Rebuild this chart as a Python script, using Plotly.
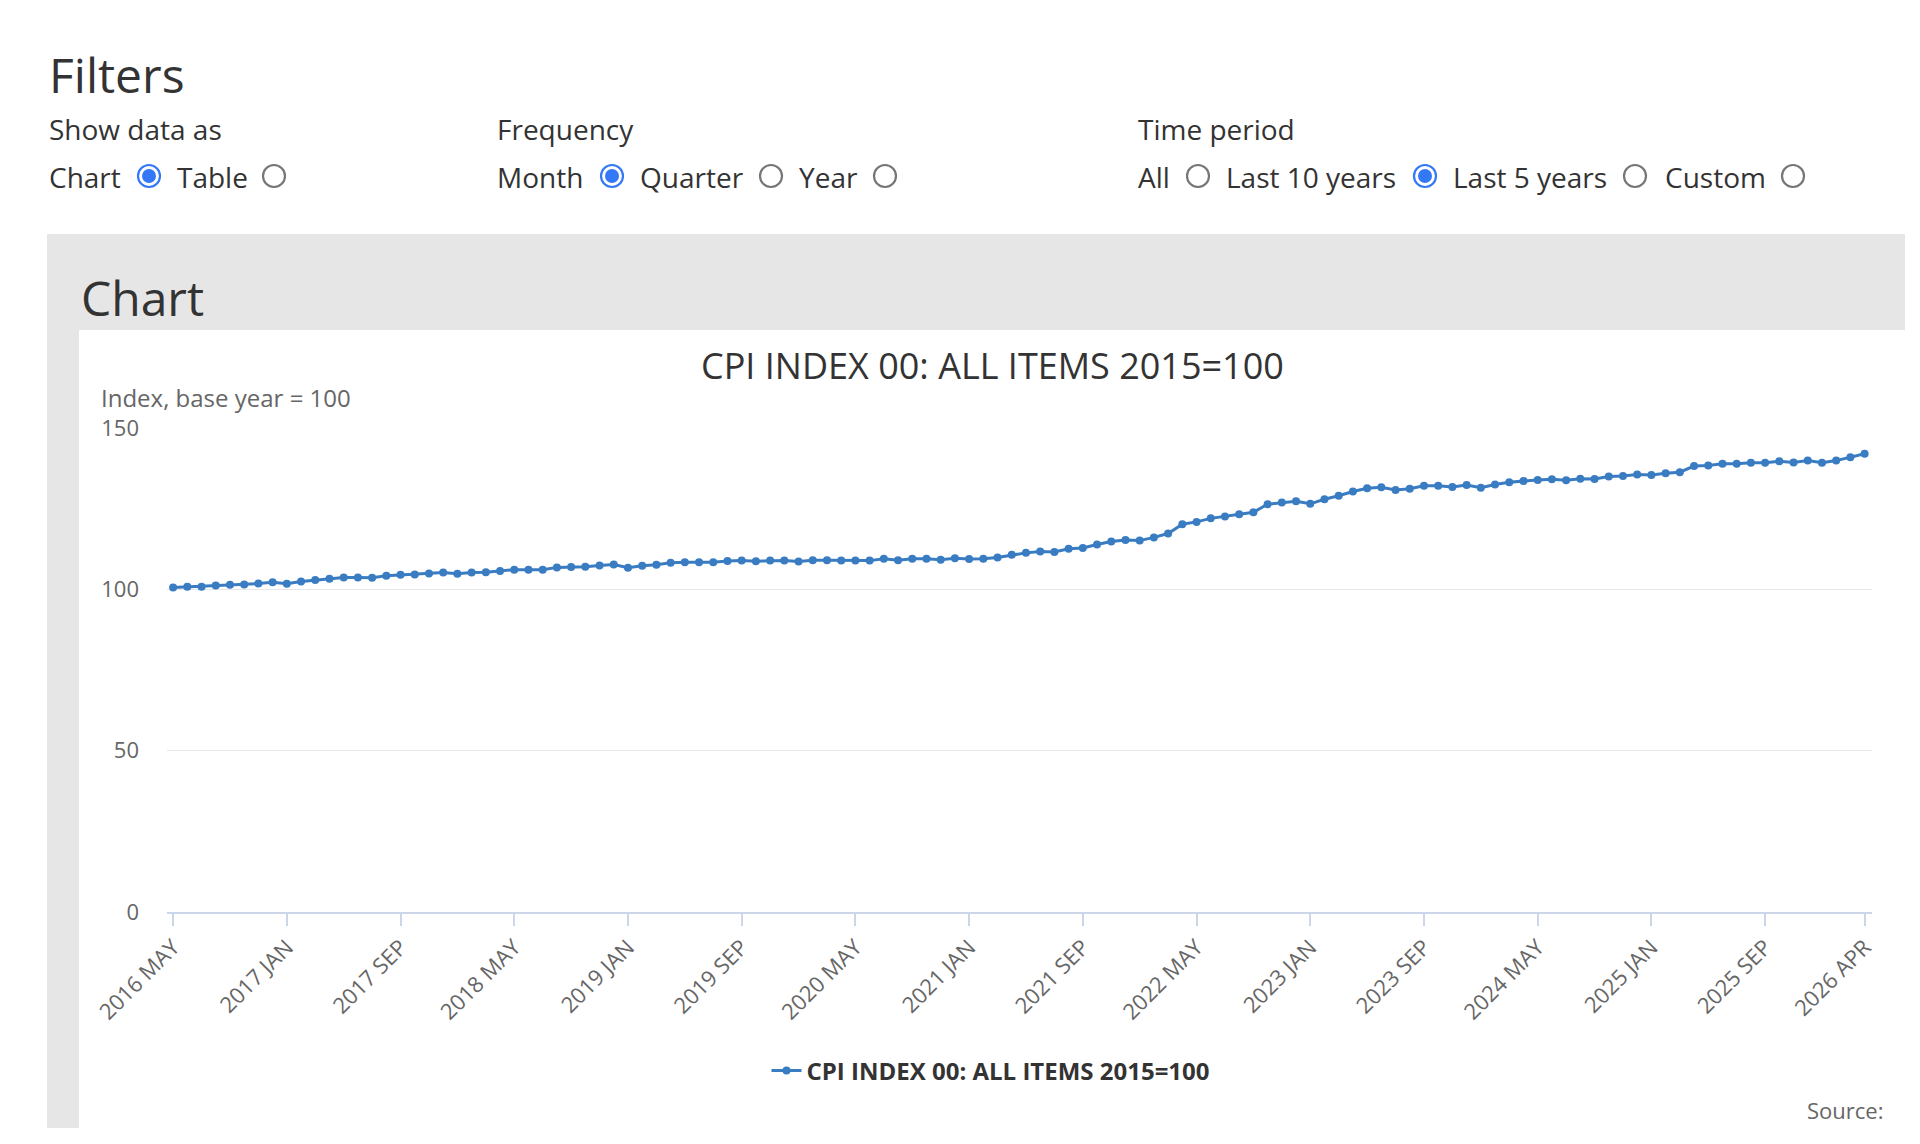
import pandas as pd
import plotly.graph_objects as go

# monthly CPI, 2016 MAY .. 2026 APR
cpi_values = [
    100.6, 100.8, 100.8, 101.2, 101.4, 101.5, 101.8, 102.2, 101.7, 102.4,
    102.9, 103.3, 103.7, 103.7, 103.6, 104.2, 104.5, 104.6, 104.9, 105.2,
    104.8, 105.2, 105.3, 105.7, 106.1, 106.1, 106.1, 106.8, 106.9, 107.0,
    107.4, 107.7, 106.7, 107.3, 107.6, 108.2, 108.4, 108.4, 108.4, 108.8,
    108.9, 108.7, 108.9, 108.9, 108.6, 109.0, 109.0, 108.9, 108.9, 108.9,
    109.5, 109.0, 109.5, 109.5, 109.2, 109.6, 109.4, 109.5, 109.9, 110.7,
    111.3, 111.7, 111.6, 112.6, 112.8, 113.9, 114.8, 115.3, 115.1, 116.1,
    117.3, 120.2, 120.9, 122.0, 122.6, 123.3, 123.9, 126.4, 126.9, 127.3,
    126.5, 127.9, 129.0, 130.3, 131.3, 131.6, 130.8, 131.2, 132.1, 132.1,
    131.7, 132.3, 131.5, 132.5, 133.2, 133.6, 133.9, 134.1, 133.8, 134.3,
    134.2, 135.0, 135.1, 135.6, 135.4, 136.0, 136.3, 138.2, 138.4, 138.9,
    138.9, 139.2, 139.2, 139.7, 139.3, 139.9, 139.2, 139.9, 140.9, 142.0,
]
months = [p.strftime("%Y %b").upper() for p in pd.period_range("2016-05", "2026-04", freq="M")]
tick_labels = months[::8] + [months[-1]]
y_ticks = [0, 50, 100, 150]

series_name = "CPI INDEX 00: ALL ITEMS 2015=100"
line_color = "#3a7cc2"
font = "Open Sans"

# plot area in page pixels
W, H = 1920, 1144
L, R, T, B = 159, 1864, 420, 904


def px(x):
    return (x - L) / (R - L)


def py(y):
    return (B - y) / (B - T)


def text(s, x, baseline, size, color="#333333", anchor="left"):
    return dict(text=s, x=px(x), y=py(baseline - 0.34 * size), xref="paper", yref="paper",
                xanchor=anchor, yanchor="middle", showarrow=False,
                font=dict(family=font, size=size, color=color))


def rect(x0, y0, x1, y1, color):
    return dict(type="rect", xref="paper", yref="paper",
                x0=px(x0), x1=px(x1), y0=py(y1), y1=py(y0),
                fillcolor=color, line_width=0, layer="below")


fig = go.Figure(go.Scatter(
    x=months, y=cpi_values, name=series_name, mode="lines+markers",
    line=dict(color=line_color, width=3),
    marker=dict(color=line_color, size=8),
))

# grey "Chart" box with the white chart card inside it
shapes = [
    rect(39, 226, 1897, 1120, "#e6e6e6"),
    rect(71, 322, 1897, 1120, "white"),
]

# radio buttons of the filter form
radio_y = 168
radios = [(141, True), (266, False), (604, True), (763, False), (877, False),
          (1190, False), (1417, True), (1627, False), (1785, False)]
for cx, on in radios:
    r = 11
    shapes.append(dict(type="circle", xref="paper", yref="paper",
                       x0=px(cx - r), x1=px(cx + r), y0=py(radio_y + r), y1=py(radio_y - r),
                       fillcolor="white",
                       line=dict(color="#3478f6" if on else "#767676", width=2.2)))
    if on:
        r2 = 7
        shapes.append(dict(type="circle", xref="paper", yref="paper",
                           x0=px(cx - r2), x1=px(cx + r2), y0=py(radio_y + r2), y1=py(radio_y - r2),
                           fillcolor="#3478f6", line_width=0))

annotations = [
    text("Filters", 39, 83, 48),
    text("Show data as", 39, 131, 28),
    text("Frequency", 487, 131, 28),
    text("Time period", 1128, 131, 28),
    text("Chart", 39, 179, 28),
    text("Table", 167, 179, 28),
    text("Month", 487, 179, 28),
    text("Quarter", 630, 179, 28),
    text("Year", 789, 179, 28),
    text("All", 1128, 179, 28),
    text("Last 10 years", 1216, 179, 28),
    text("Last 5 years", 1443, 179, 28),
    text("Custom", 1655, 179, 28),
    text("Chart", 71, 306, 48),
    text(series_name, 984, 370, 36, anchor="center"),
    text("Index, base year = 100", 91, 398, 24, color="#666666"),
    text("Source:", 1877, 1109, 22, color="#666666", anchor="right"),
]

fig.update_layout(
    width=W, height=H,
    margin=dict(l=L, r=W - R, t=T, b=H - B),
    paper_bgcolor="white", plot_bgcolor="rgba(0,0,0,0)",
    font=dict(family=font, color="#666666"),
    shapes=shapes, annotations=annotations,
    showlegend=True,
    legend=dict(orientation="h", x=px(983), xanchor="center", y=py(1063), yanchor="middle",
                font=dict(family=font, size=24, color="#333333", weight=700),
                bgcolor="rgba(0,0,0,0)"),
    xaxis=dict(type="category", range=[-0.43, 119.52],
               tickmode="array", tickvals=tick_labels, ticktext=tick_labels,
               tickangle=-45, tickfont=dict(size=22, color="#666666"),
               ticks="outside", ticklen=12, tickcolor="#ccd6eb", tickwidth=1.5,
               showgrid=False, showline=True, linecolor="#ccd6eb", linewidth=1.5,
               zeroline=False),
    yaxis=dict(range=[0, 150], tickvals=y_ticks, tickfont=dict(size=22, color="#666666"),
               gridcolor="#e6e6e6", gridwidth=1.2, zeroline=False, showline=False,
               ticklabelstandoff=27),
)

fig.write_html("out.html", config={"displayModeBar": False})
